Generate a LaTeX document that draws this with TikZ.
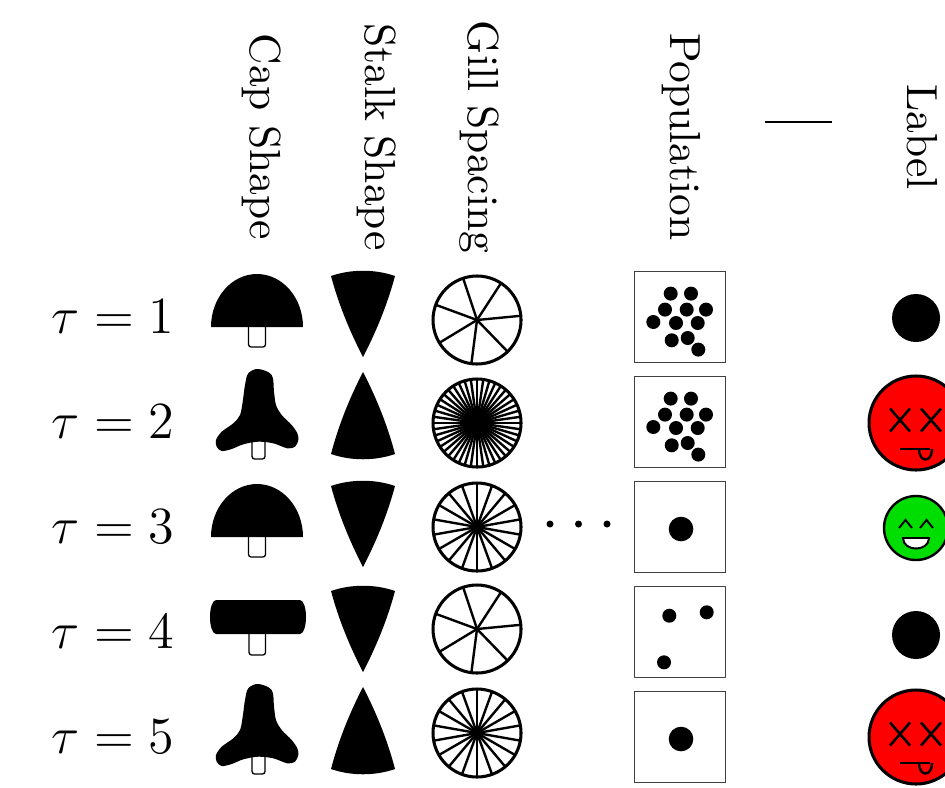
\documentclass[tikz,border=0pt]{standalone}
\usepackage{tikz}
\usetikzlibrary{calc}
\definecolor{deadred}{RGB}{255,0,0}
\definecolor{happygreen}{RGB}{0,221,0}
\def\gillwheel(#1,#2)(#3:#4){\foreach \k in {1,...,#3}{\draw[line width=0.55pt] (#1,#2) -- ++({#4+360/#3*\k}:44);}\draw[line width=0.7pt] (#1,#2) circle (44);}
\def\swarm(#1){\foreach \dx/\dy in {-9.3/-23.4, 11/-23.4, -15/-7.4, 6.7/-7.4, 26/-7.4, -26.7/5, -4/6, 17.7/6, -8.3/23.3, 7.7/21, 18.3/32.6}{\fill ($(#1.center)+(\dx,\dy)$) circle (7);}}
\tikzset{
	popbox/.style={draw=black!75, line width=0.35pt, minimum size=20.9pt, inner sep=0pt},
	header/.style={rotate=-90, anchor=base, inner sep=0pt},
	stemline/.style={line width=0.3pt, fill=white, rounded corners=0.6pt}
}

\begin{document}
\begin{tikzpicture}[x={(0.23pt,0)}, y={(0,-0.23pt)}]
			%%%%% START %%%%%
			\useasboundingbox (0,0) rectangle (945,787);
			\clip (0,0) rectangle (945,787);
			
			\node[header] (capHead) at (250,137) {Cap Shape};
			\node[header] (stalkHead) at (365,137) {Stalk Shape};
			\node[header] (gillHead) at (468,137) {Gill Spacing};
			\node[header] (popHead) at (670,137) {Population};
			\node[header] (labelHead) at (907,137) {Label};
			\draw[line width=0.45pt] (765,122) -- (832,122);
			
			\node (tau1) at (113,317) {\large $\tau = 1$};
			\node (tau2) at (113,422) {\large $\tau = 2$};
			\node (tau3) at (113,527) {\large $\tau = 3$};
			\node (tau4) at (113,632) {\large $\tau = 4$};
			\node (tau5) at (113,737) {\large $\tau = 5$};
			
			% caps
			\foreach \y in {317,527}{
				\begin{scope}[shift={(257,\y)}]
					\draw[stemline] (-8.5,5) -- (-8.5,30) -- (8.5,30) -- (8.5,5);
					\fill (-46,10) arc[start angle=180, end angle=360, x radius=46, y radius=53] -- cycle;
				\end{scope}
			}
			\foreach \y in {422,737}{
				\begin{scope}[shift={(257,\y)}]
					\draw[stemline] (-5,15) -- (-5,37) -- (8,37) -- (8,15);
					\fill plot[smooth cycle, tension=0.55] coordinates {(1.3,-53) (14.7,-47) (17,-30.3) (19,-17) (24.7,-7) (34.7,3) (40.3,11.3) (41.3,18) (38,24.7) (30.3,26.3) (16.3,21.3) (1.3,19.7) (-13.7,22.3) (-25.3,27) (-35.3,29) (-40.3,24.7) (-41,18) (-35.3,9.7) (-23.7,1.3) (-17,-7) (-14.3,-20.3) (-12,-37) (-8.7,-48.7)};
				\end{scope}
			}
			\begin{scope}[shift={(257,632)}]
				\draw[stemline] (-8,-5) -- (-8,23) -- (8.5,23) -- (8.5,-5);
				\fill (-41,-32) -- (43,-32) .. controls (51,-31) and (51,1) .. (43,2) -- (-41,2) .. controls (-49,1) and (-49,-31) .. cycle;
			\end{scope}
			
			% stalks
			\foreach \y in {317,527,632}{
				\fill[shift={(363,\y)}] (-32,-41) .. controls (-12,-48) and (12,-48) .. (32,-41) .. controls (24.5,-13) and (13.5,14) .. (0,40) .. controls (-13.5,14) and (-24.5,-13) .. cycle;
			}
			\foreach \y in {422,737}{
				\fill[shift={(363,\y)}] (0,-50) .. controls (14,-23) and (25,5) .. (32,32) .. controls (12,39) and (-12,39) .. (-32,32) .. controls (-25,5) and (-14,-23) .. cycle;
			}
			
			% gills
			\gillwheel(477,320)(7:-5.5)
			\gillwheel(477,423)(44:0)
			\gillwheel(477,527)(18:10)
			\gillwheel(477,629)(7:-5.5)
			\gillwheel(477,733)(18:10)
			
			\fill (550,524) circle (3.5);
			\fill (578.5,524) circle (3.5);
			\fill (607,524) circle (3.5);
			
			% populations
			\node[popbox] (pop1) at (680,317) {};
			\node[popbox] (pop2) at (680,422) {};
			\node[popbox] (pop3) at (680,527) {};
			\node[popbox] (pop4) at (680,632) {};
			\node[popbox] (pop5) at (680,737) {};
			\swarm(pop1)
			\swarm(pop2)
			\fill ($(pop3.center)+(1,2)$) circle (12.3);
			\fill ($(pop4.center)+(-10.7,-16.3)$) circle (7);
			\fill ($(pop4.center)+(26.7,-19.7)$) circle (7);
			\fill ($(pop4.center)+(-16,30.3)$) circle (7);
			\fill ($(pop5.center)+(1,2)$) circle (12.3);
			
			% labels
			\fill (916,318) circle (24);
			\fill (916,635) circle (24);
			\foreach \y in {423,737}{
				\begin{scope}[shift={(916,\y)}]
					\draw[line width=0.7pt, fill=deadred] (0,0) circle (47);
					\draw[line width=0.6pt] (-26,-14.5) -- (-6,8.5) (-26,8.5) -- (-6,-14.5);
					\draw[line width=0.6pt] (5,-14.5) -- (25,8.5) (5,8.5) -- (25,-14.5);
					\draw[line width=0.65pt] (-16,26) -- (14,26);
					\draw[line width=0.55pt] (3,26) .. controls (3,40) and (16,40) .. (16,26);
				\end{scope}
			}
			\begin{scope}[shift={(916,528)}]
				\draw[line width=0.55pt, fill=happygreen] (0,0) circle (32);
				\draw[line width=0.45pt] (-17,0) -- (-10.5,-8) -- (-4,0);
				\draw[line width=0.45pt] (4,0) -- (10.5,-8) -- (17,0);
				\draw[line width=0.45pt, fill=white] (-13,10) -- (13,10) .. controls (13,24) and (-13,24) .. cycle;
			\end{scope}
			
			%%%%% END %%%%%
		\end{tikzpicture}
\end{document}
